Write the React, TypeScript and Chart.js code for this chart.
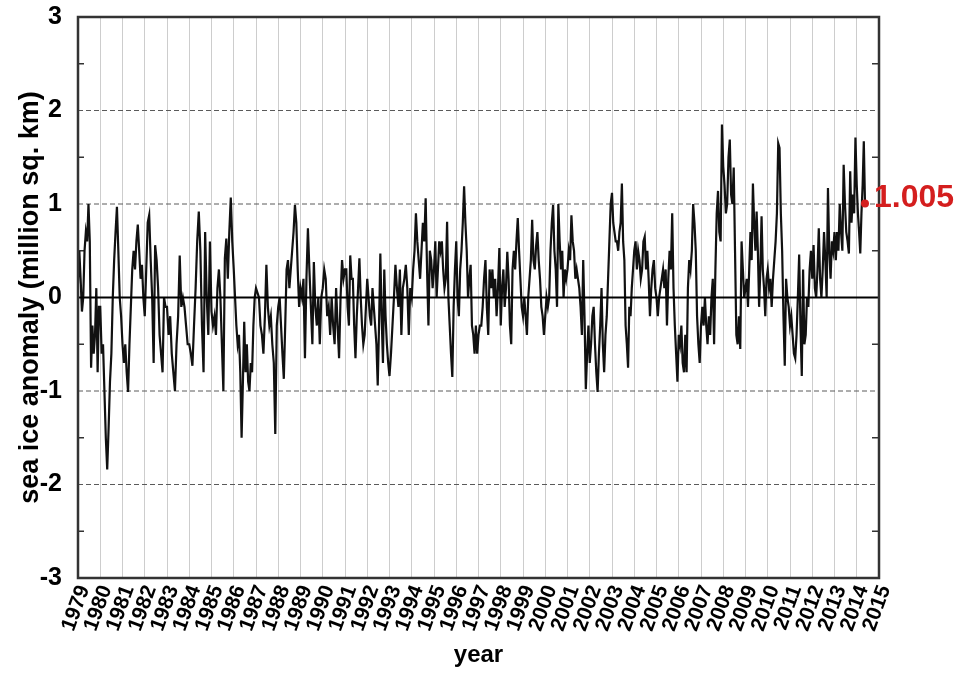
import React, { useEffect, useRef } from 'react';
import { Chart, registerables } from 'chart.js';

Chart.register(...registerables);

// x axis runs 1979..2015, data stops part way into 2014
const firstYear = 1979;
const lastYear = 2015;
const lastYearFraction = 0.37;
const yMin = -3;
const yMax = 3;

// anomaly readings (million sq. km), evenly spaced within each year
const a1979 = [0.15, 0.5, 0.2, -0.15, 0.0, 0.5, 0.7, 0.6, 1.0, 0.6, -0.75, -0.3, -0.6, -0.4, 0.1, -0.8, -0.1];
const a1980 = [-0.1, -0.6, -0.5, -1.0, -1.5, -1.84, -1.4, -0.9, -0.6, 0.0, 0.4, 0.7, 0.97, 0.5, 0.0, -0.2];
const a1981 = [-0.5, -0.7, -0.5, -0.8, -1.01, -0.5, -0.1, 0.3, 0.5, 0.3, 0.6, 0.78, 0.5, 0.2, 0.35, 0.0];
const a1982 = [-0.2, 0.3, 0.8, 0.88, 0.4, 0.0, -0.7, 0.56, 0.4, 0.1, -0.4, -0.6, -0.8, 0.0, -0.1];
const a1983 = [-0.1, -0.4, -0.2, -0.6, -0.8, -1.0, -0.5, -0.2, 0.45, -0.1, 0.0, -0.1, -0.3, -0.5];
const a1984 = [-0.5, -0.6, -0.73, -0.3, 0.1, 0.6, 0.92, 0.5, -0.3, -0.8, 0.7, 0.0, -0.4, 0.6];
const a1985 = [-0.15, -0.3, -0.2, -0.4, 0.1, 0.3, 0.0, -0.5, -1.0, 0.42, 0.63, 0.2, 0.7, 1.07, 0.6];
const a1986 = [0.3, 0.0, -0.3, -0.5, -0.4, -0.8, -1.5, -0.9, -0.26, -0.8, -0.5, -0.9, -1.0, -0.7, -0.8, -0.3, 0.0];
const a1987 = [0.1, 0.05, 0.0, -0.3, -0.4, -0.6, -0.2, 0.35, -0.1, -0.3, -0.2, -0.5, -0.7, -1.46, -0.3];
const a1988 = [-0.1, 0.0, -0.3, -0.6, -0.87, -0.3, 0.3, 0.4, 0.1, 0.3, 0.5, 0.7, 0.99, 0.8, 0.3, -0.1];
const a1989 = [0.1, 0.0, 0.2, -0.65, 0.2, 0.74, 0.3, -0.1, -0.5, 0.38, -0.1, -0.3, 0.0, -0.5, 0.0];
const a1990 = [0.1, 0.3, 0.2, -0.2, -0.1, -0.4, 0.0, -0.3, -0.5, 0.1, -0.3, -0.65, 0.0, 0.4, 0.2];
const a1991 = [0.3, 0.3, -0.1, -0.3, 0.45, 0.2, 0.2, -0.3, -0.65, -0.2, 0.1, 0.42, 0.0, -0.3, -0.5, -0.4, -0.1];
const a1992 = [0.2, 0.0, -0.2, -0.3, 0.1, -0.1, -0.3, -0.5, -0.94, -0.3, 0.47, -0.2, -0.7, 0.3, -0.2, -0.5, -0.7];
const a1993 = [-0.84, -0.6, -0.3, 0.0, 0.35, 0.1, -0.1, 0.3, -0.4, 0.1, 0.2, 0.35, 0.1, -0.4, 0.1];
const a1994 = [0.0, 0.3, 0.5, 0.9, 0.6, 0.4, 0.2, 0.5, 0.8, 0.6, 1.06, 0.3, -0.3, 0.5, 0.4, 0.1];
const a1995 = [0.3, 0.6, 0.0, 0.3, 0.6, 0.5, 0.6, 0.3, 0.1, 0.2, 0.81, 0.0, -0.3, -0.6, -0.85, -0.1, 0.3];
const a1996 = [0.6, 0.0, -0.2, 0.3, 0.5, 0.8, 1.19, 0.8, 0.5, 0.0, 0.2, 0.35, -0.3, -0.4, -0.6, -0.3, -0.6];
const a1997 = [-0.4, -0.3, -0.3, -0.1, 0.2, 0.4, -0.1, -0.4, 0.3, 0.1, 0.3, 0.0, 0.2, -0.2, 0.1, 0.53];
const a1998 = [-0.3, 0.1, 0.3, -0.1, 0.1, 0.49, 0.2, -0.3, -0.5, 0.3, 0.5, 0.3, 0.6, 0.85, 0.5, 0.2, -0.1];
const a1999 = [-0.2, 0.0, -0.2, -0.4, 0.0, 0.2, 0.4, 0.83, 0.4, 0.3, 0.55, 0.7, 0.4, 0.2, -0.1, -0.2, -0.4];
const a2000 = [-0.2, 0.0, -0.1, 0.0, 0.5, 0.8, 0.99, 0.5, 0.3, -0.1, 1.0, 0.6, 0.3, 0.5, 0.0, 0.3, 0.2];
const a2001 = [0.3, 0.5, 0.4, 0.88, 0.6, 0.5, 0.2, 0.3, 0.2, 0.1, -0.1, -0.4, 0.4, -0.2, -0.98, -0.6, -0.3];
const a2002 = [-0.7, -0.5, -0.2, -0.1, -0.5, -0.8, -1.01, -0.6, -0.3, 0.1, -0.5, -0.8, -0.4, -0.2, 0.2, 0.6, 1.0];
const a2003 = [1.12, 0.8, 0.7, 0.6, 0.6, 0.5, 0.7, 0.8, 1.22, 0.6, 0.4, -0.3, -0.5, -0.75, -0.1, -0.2, 0.1, 0.3];
const a2004 = [0.5, 0.6, 0.3, 0.5, 0.4, 0.2, 0.3, 0.6, 0.65, 0.3, 0.5, 0.2, -0.2, 0.1, 0.3, 0.4, 0.1];
const a2005 = [0.0, -0.2, 0.0, 0.1, 0.2, 0.3, 0.1, 0.3, -0.3, 0.2, 0.5, 0.3, 0.9, 0.1, -0.3, -0.6, -0.9];
const a2006 = [-0.4, -0.5, -0.3, -0.7, -0.8, -0.4, -0.8, 0.1, 0.4, 0.3, 0.5, 1.0, 0.8, 0.5, -0.2, -0.5, -0.7];
const a2007 = [-0.3, -0.1, -0.3, 0.0, -0.3, -0.5, -0.2, -0.4, 0.0, 0.2, -0.5, 0.3, 0.9, 1.14, 0.7, 0.6, 1.85];
const a2008 = [1.4, 1.2, 0.9, 1.0, 1.5, 1.69, 1.1, 1.0, 1.39, 0.5, -0.4, -0.5, -0.2, -0.55, 0.6, 0.3, 0.0];
const a2009 = [0.1, 0.2, -0.1, 0.3, 0.7, 0.4, 1.22, 0.8, 0.5, 0.92, 0.5, -0.1, 0.3, 0.87, 0.3, 0.1, -0.2, 0.2];
const a2010 = [0.3, 0.1, 0.2, -0.1, 0.2, 0.4, 0.6, 0.9, 1.65, 1.6, 0.9, 0.5, -0.2, -0.73, 0.2, 0.0, -0.1];
const a2011 = [-0.3, -0.2, -0.4, -0.6, -0.65, -0.4, 0.0, 0.46, -0.3, -0.84, 0.3, -0.5, -0.4, 0.0, -0.1, 0.3, 0.5];
const a2012 = [0.2, 0.56, 0.1, 0.0, 0.3, 0.74, 0.2, 0.0, 0.3, 0.7, 0.4, 0.0, 1.17, 0.5, 0.2, 0.6, 0.5];
const a2013 = [0.7, 0.4, 0.7, 0.5, 1.0, 0.7, 0.5, 1.42, 1.0, 0.7, 0.6, 0.47, 1.35, 0.8, 1.1, 0.9, 1.71];
const a2014 = [1.2, 0.9, 0.7, 0.47, 0.9, 1.2, 1.67, 1.005];

const yearlyAnomaly = [
  a1979, a1980, a1981, a1982, a1983, a1984, a1985, a1986, a1987, a1988,
  a1989, a1990, a1991, a1992, a1993, a1994, a1995, a1996, a1997, a1998,
  a1999, a2000, a2001, a2002, a2003, a2004, a2005, a2006, a2007, a2008,
  a2009, a2010, a2011, a2012, a2013, a2014,
];

const FONT = "'Liberation Sans', Arial, Helvetica, sans-serif";
const RED = '#d41e1e';

function buildPoints() {
  const pts: { x: number; y: number }[] = [];
  yearlyAnomaly.forEach((vals, yi) => {
    const year = firstYear + yi;
    const isLast = yi === yearlyAnomaly.length - 1;
    vals.forEach((v, i) => {
      const frac = isLast ? (i / (vals.length - 1)) * lastYearFraction : i / vals.length;
      pts.push({ x: year + frac, y: v });
    });
  });
  return pts;
}

const framePlugin = {
  id: 'frame',
  beforeDatasetsDraw(chart: any) {
    const { ctx, chartArea, scales } = chart;
    const { left, right } = chartArea;
    const y = scales.y;
    ctx.save();
    y.ticks.forEach((t: any) => {
      const py = y.getPixelForValue(t.value);
      if (Number.isInteger(t.value)) {
        if (t.value === 0 || Math.abs(t.value) >= 3) return;
        ctx.setLineDash([5, 3]);
        ctx.strokeStyle = '#5a5a5a';
        ctx.lineWidth = 1;
        ctx.beginPath();
        ctx.moveTo(left, py);
        ctx.lineTo(right, py);
        ctx.stroke();
      } else {
        // small minor ticks inside the frame
        ctx.setLineDash([]);
        ctx.strokeStyle = '#333';
        ctx.lineWidth = 1.5;
        ctx.beginPath();
        ctx.moveTo(left, py);
        ctx.lineTo(left + 6, py);
        ctx.moveTo(right - 7, py);
        ctx.lineTo(right, py);
        ctx.stroke();
      }
    });
    ctx.restore();
  },
  afterDatasetsDraw(chart: any) {
    const { ctx, chartArea, scales } = chart;
    const { left, right, top, bottom } = chartArea;
    const py0 = scales.y.getPixelForValue(0);
    ctx.save();
    ctx.setLineDash([]);
    ctx.strokeStyle = '#000';
    ctx.lineWidth = 2;
    ctx.beginPath();
    ctx.moveTo(left, py0);
    ctx.lineTo(right, py0);
    ctx.stroke();

    ctx.strokeStyle = '#333';
    ctx.lineWidth = 2.5;
    ctx.strokeRect(left, top, right - left, bottom - top);

    // latest value label
    const meta = chart.getDatasetMeta(0);
    const last = meta.data[meta.data.length - 1];
    const ds = chart.data.datasets[0].data;
    const lastVal = ds[ds.length - 1].y;
    ctx.fillStyle = RED;
    ctx.font = `bold 32px ${FONT}`;
    ctx.textAlign = 'left';
    ctx.textBaseline = 'alphabetic';
    ctx.fillText(lastVal.toFixed(3), last.x + 9, last.y + 3);
    ctx.restore();
  },
};

export default function App() {
  const canvasRef = useRef<HTMLCanvasElement | null>(null);

  useEffect(() => {
    const canvas = canvasRef.current;
    if (!canvas) return;
    const points = buildPoints();
    const lastIndex = points.length - 1;

    const chart = new Chart(canvas, {
      type: 'line',
      data: {
        datasets: [{
          data: points,
          borderColor: '#111',
          borderWidth: 2.2,
          tension: 0,
          pointRadius: (c: any) => (c.dataIndex === lastIndex ? 4 : 0),
          pointBackgroundColor: RED,
          pointBorderColor: RED,
          pointBorderWidth: 0,
        }],
      },
      options: {
        animation: false,
        responsive: true,
        maintainAspectRatio: false,
        layout: { padding: { top: 17, right: 80, left: 0, bottom: 0 } },
        plugins: {
          legend: { display: false },
          tooltip: { enabled: false },
        },
        scales: {
          x: {
            type: 'linear',
            min: firstYear,
            max: lastYear,
            grid: { color: '#cdcdcd', lineWidth: 1, drawTicks: false },
            border: { display: false },
            ticks: {
              stepSize: 1,
              autoSkip: false,
              minRotation: 70,
              maxRotation: 70,
              padding: 4,
              labelOffset: 6,
              color: '#000',
              font: { family: FONT, size: 21, weight: 'bold' },
              callback: (v: any) => String(v),
            },
            title: {
              display: true,
              text: 'year',
              color: '#000',
              font: { family: FONT, size: 24, weight: 'bold' },
              padding: { top: 0, bottom: 7 },
            },
            afterFit: (s: any) => { s.height = 99; },
          },
          y: {
            min: yMin,
            max: yMax,
            grid: { display: false, drawTicks: false },
            border: { display: false },
            ticks: {
              stepSize: 0.5,
              padding: 16,
              color: '#000',
              font: { family: FONT, size: 25, weight: 'bold' },
              callback: (v: any) => (Number.isInteger(v) ? String(v) : ''),
            },
            title: {
              display: true,
              text: 'sea ice anomaly (million sq. km)',
              color: '#000',
              font: { family: FONT, size: 27, weight: 'bold' },
              padding: { top: 14, bottom: 0 },
            },
            afterFit: (s: any) => {
              s.width = 78;
              s.paddingTop = 0;
              s.paddingBottom = 0;
            },
          },
        },
      },
      plugins: [framePlugin],
    });

    return () => chart.destroy();
  }, []);

  return (
    <div style={{ position: 'fixed', left: 0, top: 0, width: 959, height: 677, background: '#fff' }}>
      <canvas ref={canvasRef}></canvas>
    </div>
  );
}
